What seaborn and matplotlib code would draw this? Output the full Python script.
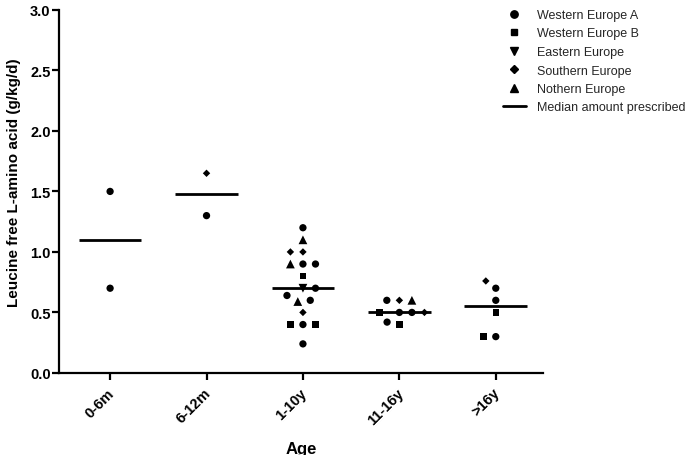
import numpy as np
import pandas as pd
import matplotlib
matplotlib.use("Agg")
import matplotlib.pyplot as plt
import seaborn as sns
from matplotlib.markers import MarkerStyle
from matplotlib.lines import Line2D
from matplotlib.transforms import Affine2D, ScaledTranslation

# ---------------- data ----------------
ages = ["0-6m", "6-12m", "1-10y", "11-16y", ">16y"]
regions = ["Western Europe A", "Western Europe B", "Eastern Europe",
           "Southern Europe", "Nothern Europe"]

vals_0_6m = [1.5, 0.7]
reg_0_6m = ["Western Europe A", "Western Europe A"]

vals_6_12m = [1.65, 1.3]
reg_6_12m = ["Southern Europe", "Western Europe A"]

vals_1_10y = [1.2, 1.1, 1.0, 1.0, 0.9, 0.9, 0.9, 0.8, 0.7, 0.7,
              0.64, 0.6, 0.59, 0.5, 0.4, 0.4, 0.4, 0.24]
reg_1_10y = ["Western Europe A", "Nothern Europe", "Southern Europe", "Southern Europe",
             "Western Europe A", "Western Europe A", "Nothern Europe", "Western Europe B",
             "Western Europe A", "Eastern Europe", "Western Europe A", "Western Europe A",
             "Nothern Europe", "Southern Europe", "Western Europe B", "Western Europe A",
             "Western Europe B", "Western Europe A"]

vals_11_16y = [0.6, 0.6, 0.6, 0.5, 0.5, 0.5, 0.5, 0.42, 0.4]
reg_11_16y = ["Southern Europe", "Nothern Europe", "Western Europe A",
              "Western Europe A", "Western Europe A", "Southern Europe", "Western Europe B",
              "Western Europe A", "Western Europe B"]

vals_16y = [0.76, 0.7, 0.6, 0.5, 0.3, 0.3]
reg_16y = ["Southern Europe", "Western Europe A", "Western Europe A",
           "Western Europe B", "Western Europe B", "Western Europe A"]

values_by_age = [vals_0_6m, vals_6_12m, vals_1_10y, vals_11_16y, vals_16y]
regions_by_age = [reg_0_6m, reg_6_12m, reg_1_10y, reg_11_16y, reg_16y]

rows = []
for a, vs, rs in zip(ages, values_by_age, regions_by_age):
    for v, r in zip(vs, rs):
        rows.append({"Age": a, "value": v, "region": r})
df = pd.DataFrame(rows)

# ---------------- style ----------------
sns.set_theme(style="ticks")
plt.rcParams["font.family"] = ["Liberation Sans", "DejaVu Sans"]

marker_of = {"Western Europe A": "o", "Western Europe B": "s", "Eastern Europe": "v",
             "Southern Europe": "D", "Nothern Europe": "^"}
scale_of = {"o": 1.0, "s": 0.9, "v": 1.2, "D": 0.72, "^": 1.2}

fig = plt.figure(figsize=(6.9, 4.56), dpi=100)
ax = fig.add_axes([0.0855, 0.18, 0.7015, 0.796])

# collision size larger than drawn size -> Prism-like spacing
swarm_size = 8.6
draw_ratio = 0.61
sns.swarmplot(data=df, x="Age", y="value", order=ages, color="black",
              size=swarm_size, linewidth=0, ax=ax, zorder=3)

def marker_path(m):
    ms = MarkerStyle(m)
    p = ms.get_path().transformed(ms.get_transform())
    return p.transformed(Affine2D().scale(scale_of[m] * draw_ratio))

for coll in ax.collections:
    offs = coll.get_offsets()
    if len(offs) == 0:
        continue
    cat = int(round(offs[0, 0]))
    sub = df[df["Age"] == ages[cat]]
    coll.set_paths([marker_path(marker_of[r]) for r in sub["region"]])

sns.boxplot(data=df, x="Age", y="value", order=ages, width=0.65,
            showfliers=False, showcaps=False,
            boxprops=dict(visible=False), whiskerprops=dict(visible=False),
            medianprops=dict(color="black", linewidth=2.0),
            fill=False, ax=ax, zorder=2)

ax.set_xlim(-0.53, 4.49)
ax.set_ylim(0, 3.0)
ax.set_yticks(np.arange(0, 3.01, 0.5))
ax.set_yticklabels([f"{t:.1f}" for t in np.arange(0, 3.01, 0.5)])
sns.despine(ax=ax)
for s in ["left", "bottom"]:
    ax.spines[s].set_linewidth(1.6)
    ax.spines[s].set_color("black")
ax.tick_params(axis="both", direction="out", length=5, width=1.6, color="black",
               labelsize=10.5, labelcolor="black")
ax.tick_params(axis="y", pad=1)
ax.tick_params(axis="x", pad=4)
for lab in ax.get_yticklabels():
    lab.set_fontweight("bold")
shift = ScaledTranslation(-3 / 100, 0, fig.dpi_scale_trans)
for lab in ax.get_xticklabels():
    lab.set_fontweight("bold")
    lab.set_rotation(45)
    lab.set_ha("right")
    lab.set_va("top")
    lab.set_rotation_mode("anchor")
    lab.set_transform(lab.get_transform() + shift)

ax.set_ylabel("Leucine free L-amino acid (g/kg/d)", fontsize=11,
              fontweight="bold", color="black")
ax.yaxis.set_label_coords(-0.079, 0.526)
ax.set_xlabel("Age", fontsize=12, fontweight="bold", color="black", labelpad=10)

# legend
handles = []
leg_ms = {"o": 5.3, "s": 4.8, "v": 5.5, "D": 4.2, "^": 5.5}
for r in regions:
    m = marker_of[r]
    handles.append(Line2D([], [], linestyle="none", marker=m, color="black",
                          markersize=leg_ms[m]))
handles.append(Line2D([], [], color="black", linewidth=2))
labels = regions + ["Median amount prescribed"]
fig.legend(handles, labels, loc="upper left", bbox_to_anchor=(503 / 690, 1 - 10 / 456),
           frameon=False, fontsize=9, handlelength=1.8, handletextpad=0.9,
           labelspacing=0.52, borderpad=0, borderaxespad=0)

fig.savefig("out.png", dpi=100)
